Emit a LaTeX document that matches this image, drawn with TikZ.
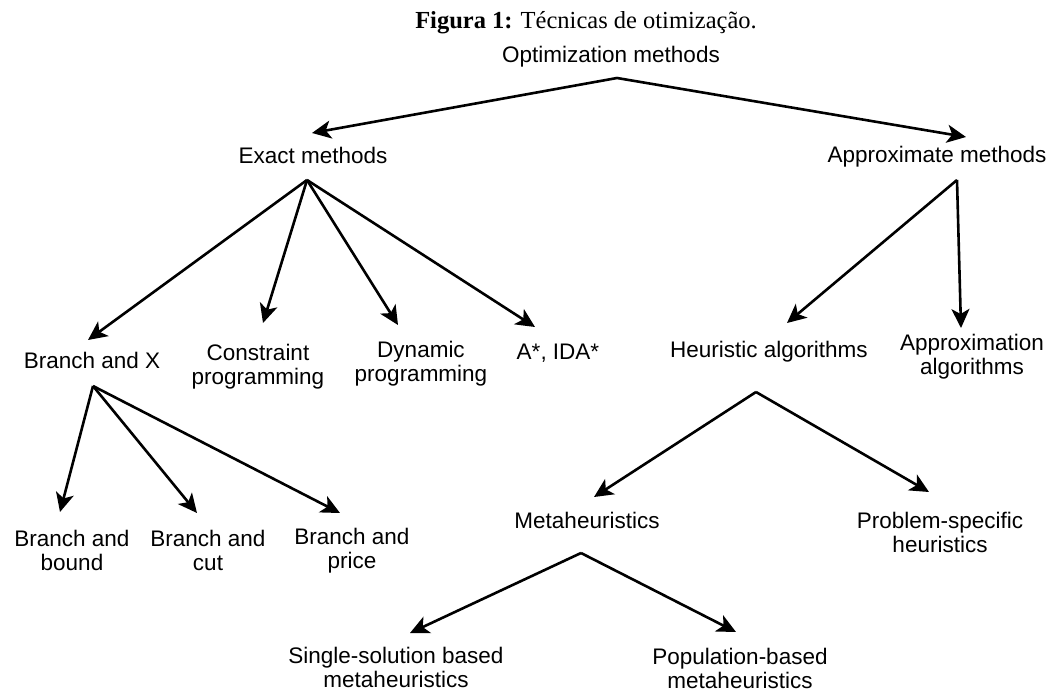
\documentclass[tikz,border=0pt]{standalone}
\usepackage{fontspec}
\setmainfont{Liberation Serif}
\setsansfont{Liberation Sans}
\usetikzlibrary{arrows.meta}

\tikzset{
  method/.style={font=\sffamily\fontsize{22.5}{24}\selectfont, inner sep=0pt, text height=16pt, text depth=5pt},
  method2/.style={font=\sffamily\fontsize{22.5}{24}\selectfont, inner sep=0pt, align=center},
  branch/.style={line width=2.6pt, -{Stealth[length=19pt, width=18pt, inset=5pt]}},
}

\begin{document}
\begin{tikzpicture}[x=1pt, y=-1pt]
		\useasboundingbox (0,0) rectangle (1049,691);
		
		\node [anchor=base, font=\fontsize{24.5}{26}\selectfont] (title) at (586,28) {\textbf{Figura 1:} Técnicas de otimização.};
		
		\node [method] (opt) at (611,56.5) {Optimization methods};
		\node [method] (exact) at (313,157.5) {Exact methods};
		\node [method] (approx) at (937,156.5) {Approximate methods};
		
		\node [method] (bx) at (92,362.5) {Branch and X};
		\node [method2] (cons) at (258,367) {Constraint\\programming};
		\node [method2] (dyn) at (421,364) {Dynamic\\programming};
		\node [method] (astar) at (558,354) {A*, IDA*};
		\node [method] (heur) at (769,352) {Heuristic algorithms};
		\node [method2] (approxalg) at (972,357) {Approximation\\algorithms};
		
		\node [method2] (bound) at (72,550) {Branch and\\bound};
		\node [method2] (cut) at (208,550) {Branch and\\cut};
		\node [method2] (price) at (352,551) {Branch and\\price};
		\node [method] (meta) at (587,522.5) {Metaheuristics};
		\node [method2] (prob) at (940,532) {Problem-specific\\heuristics};
		
		\node [method2] (single) at (396,667) {Single-solution based\\metaheuristics};
		\node [method2] (pop) at (740,668) {Population-based\\metaheuristics};
		
		%apexes
		\coordinate (opt apex) at ([xshift=6pt, yshift=-21.5pt]opt.center);
		\coordinate (exact apex) at ([xshift=-6pt, yshift=-22.5pt]exact.center);
		\coordinate (approx apex) at ([xshift=20pt, yshift=-23.5pt]approx.center);
		\coordinate (bx apex) at ([xshift=1pt, yshift=-23.5pt]bx.center);
		\coordinate (heur apex) at ([xshift=-13pt, yshift=-40pt]heur.center);
		\coordinate (meta apex) at ([xshift=-6pt, yshift=-30.5pt]meta.center);
		
		%arrows
		\draw [branch] (opt apex) -- ([xshift=-1pt, yshift=24.5pt]exact.center);
		\draw [branch] (opt apex) -- ([xshift=29pt, yshift=19.5pt]approx.center);
		
		\draw [branch] (exact apex) -- ([xshift=-4pt, yshift=22.5pt]bx.center);
		\draw [branch] (exact apex) -- ([xshift=5pt, yshift=44pt]cons.center);
		\draw [branch] (exact apex) -- ([xshift=-23pt, yshift=39pt]dyn.center);
		\draw [branch] (exact apex) -- ([xshift=-23pt, yshift=27pt]astar.center);
		
		\draw [branch] (approx apex) -- ([xshift=18pt, yshift=29pt]heur.center);
		\draw [branch] (approx apex) -- ([xshift=-11pt, yshift=29pt]approxalg.center);
		
		\draw [branch] (bx apex) -- ([xshift=-12pt, yshift=38pt]bound.center);
		\draw [branch] (bx apex) -- ([xshift=-11pt, yshift=37pt]cut.center);
		\draw [branch] (bx apex) -- ([xshift=-12pt, yshift=38pt]price.center);
		
		\draw [branch] (heur apex) -- ([xshift=7pt, yshift=25.5pt]meta.center);
		\draw [branch] (heur apex) -- ([xshift=-11pt, yshift=40pt]prob.center);
		
		\draw [branch] (meta apex) -- ([xshift=14pt, yshift=34pt]single.center);
		\draw [branch] (meta apex) -- ([xshift=-4pt, yshift=36pt]pop.center);
	\end{tikzpicture}
\end{document}
